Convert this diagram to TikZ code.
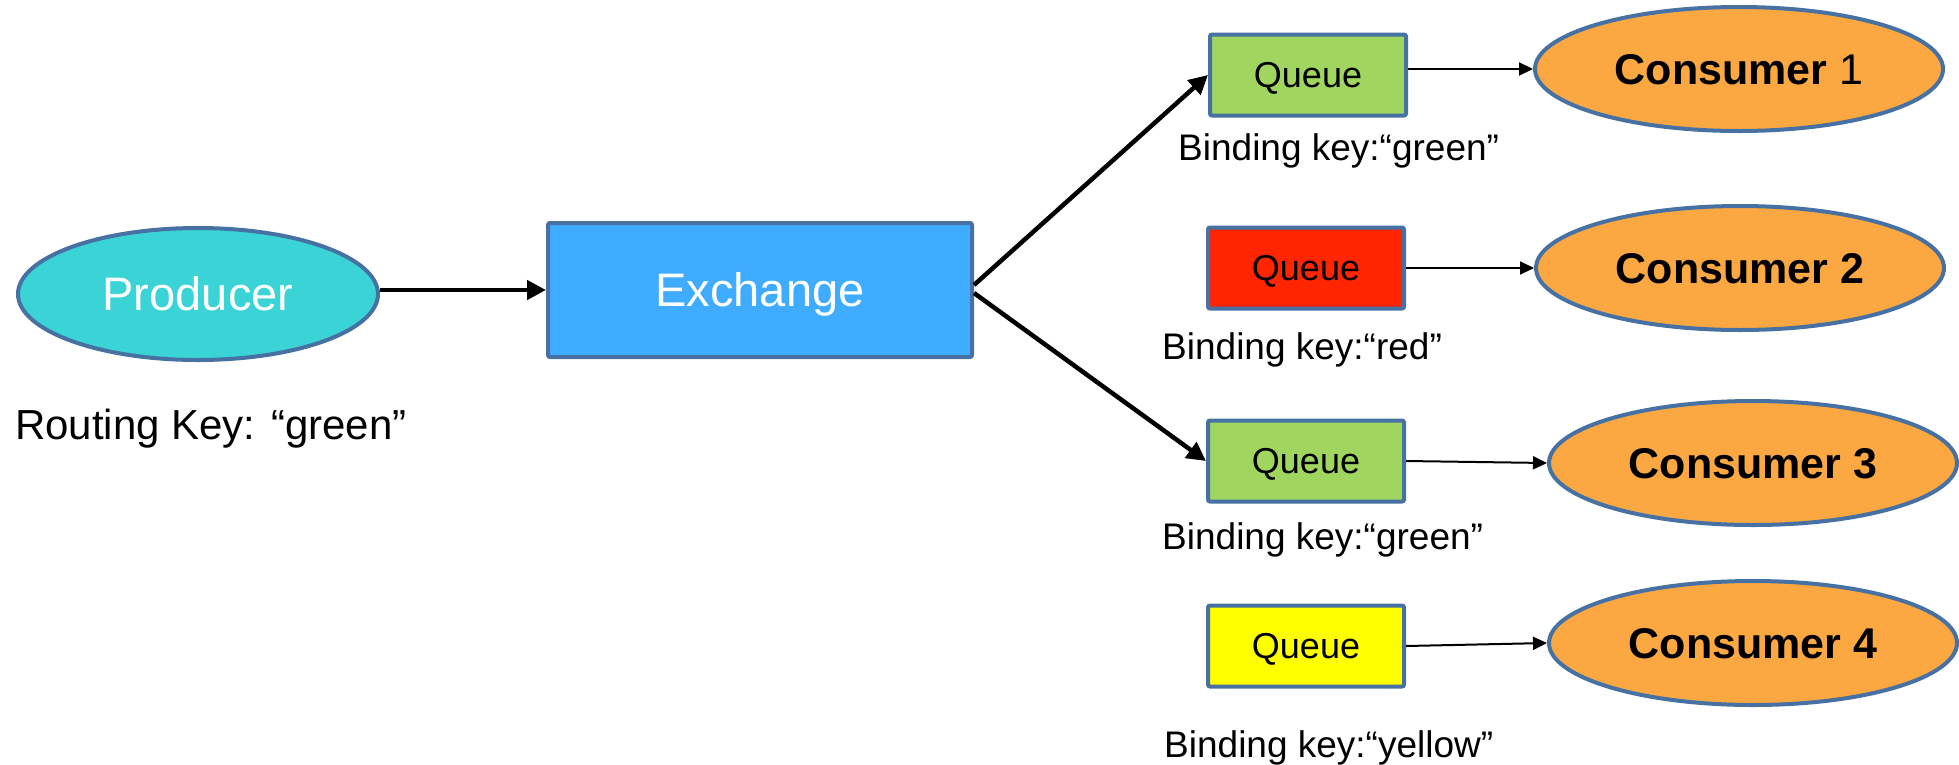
\documentclass[tikz,border=0pt]{standalone}
\usepackage{fontspec}
\setmainfont{Liberation Sans}
\usetikzlibrary{shapes.geometric,arrows.meta}

\definecolor{edgeblue}{RGB}{70,113,162}
\definecolor{producerfill}{RGB}{59,212,214}
\definecolor{exchangefill}{RGB}{63,172,255}
\definecolor{qgreen}{RGB}{160,214,96}
\definecolor{qred}{RGB}{255,37,0}
\definecolor{qyellow}{RGB}{255,255,0}
\definecolor{consumerfill}{RGB}{251,168,66}

\tikzset{
  outlined/.style={draw=edgeblue, line width=4pt},
  producerbox/.style={outlined, ellipse, fill=producerfill, inner sep=0pt,
    minimum width=360pt, minimum height=132pt, text=white,
    text height=33.7pt, text depth=0pt,
    font=\fontsize{47}{56}\selectfont},
  exchangebox/.style={outlined, rectangle, rounded corners=2pt, fill=exchangefill,
    inner sep=0pt, minimum width=424pt, minimum height=134pt, text=white,
    text height=33.7pt, text depth=0pt,
    font=\fontsize{47}{56}\selectfont},
  queuebox/.style={outlined, rectangle, rounded corners=2pt, inner sep=0pt,
    minimum width=196pt, minimum height=81pt,
    text height=25.8pt, text depth=0pt, font=\fontsize{36}{43}\selectfont},
  consumerbox/.style={outlined, ellipse, fill=consumerfill, inner sep=0pt,
    minimum width=408pt, minimum height=124pt,
    text height=30.8pt, text depth=0pt, font=\fontsize{43}{52}\selectfont},
  keylabel/.style={anchor=base west, inner sep=0pt, font=\fontsize{37}{44}\selectfont},
  bigarrow/.style={line width=4.5pt, -{Triangle[length=19pt,width=19pt]}},
  smallarrow/.style={line width=2pt, -{Triangle[length=14pt,width=13pt]}}
}

\begin{document}
\begin{tikzpicture}[x=1pt,y=-1pt]
  \useasboundingbox (0,0) rectangle (1959,764);

  % producer and exchange
  \node[producerbox] (prod) at (198,294) {Producer};
  \node[exchangebox] (ex) at (760,290) {Exchange};
  \node[anchor=base west, inner sep=0pt, font=\fontsize{42}{50}\selectfont]
    (rkey) at (15,439) {Routing Key: “green”};

  % queues
  \node[queuebox, fill=qgreen]  (q1) at (1308,75)  {Queue};
  \node[queuebox, fill=qred]    (q2) at (1306,268) {Queue};
  \node[queuebox, fill=qgreen]  (q3) at (1306,461) {Queue};
  \node[queuebox, fill=qyellow] (q4) at (1306,646) {Queue};

  % binding keys
  \node[keylabel] (bk1) at (1178,160) {Binding key:“green”};
  \node[keylabel] (bk2) at (1162,359) {Binding key:“red”};
  \node[keylabel] (bk3) at (1162,549) {Binding key:“green”};
  \node[keylabel] (bk4) at (1164,757) {Binding key:“yellow”};

  % consumers
  \node[consumerbox] (c1) at (1739,69)  {\textbf{Consumer} 1};
  \node[consumerbox] (c2) at (1740,268) {\textbf{Consumer 2}};
  \node[consumerbox] (c3) at (1753,463) {\textbf{Consumer 3}};
  \node[consumerbox] (c4) at (1753,643) {\textbf{Consumer 4}};

  % routing
  \draw[bigarrow] (prod.east |- ex.west) -- (ex.west);
  \draw[bigarrow] ([yshift=5pt]ex.east) -- (q1.west);
  \draw[bigarrow] ([yshift=-3pt]ex.east) -- (q3.west);

  % delivery
  \draw[smallarrow] (q1.east |- c1.west) -- (c1.west);
  \draw[smallarrow] (q2.east) -- (c2.west);
  \draw[smallarrow] (q3.east) -- (c3.west);
  \draw[smallarrow] (q4.east) -- (c4.west);
\end{tikzpicture}
\end{document}
